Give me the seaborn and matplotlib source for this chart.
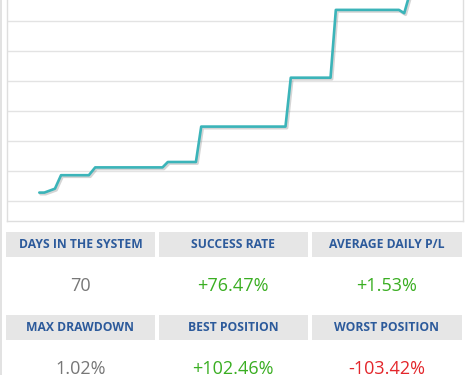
import matplotlib
matplotlib.use("Agg")
import matplotlib.pyplot as plt
import matplotlib.patheffects as pe
from matplotlib.patches import Rectangle
from matplotlib.lines import Line2D
import seaborn as sns
import pandas as pd

# ---- data ----
days = [6.15, 7.1, 9.1, 10.25, 15.5, 16.7, 29.4, 30.4, 35.7, 36.7,
        52.6, 53.6, 61.1, 62.1, 74.0, 75.0, 76.5]
equity = [2.9, 2.9, 4.2, 8.7, 8.7, 11.3, 11.3, 13.1, 13.1, 24.9,
          24.9, 41.2, 41.2, 63.8, 63.8, 62.7, 72.0]

stat_labels = ["DAYS IN THE SYSTEM", "SUCCESS RATE", "AVERAGE DAILY P/L",
               "MAX DRAWDOWN", "BEST POSITION", "WORST POSITION"]
stat_values = ["70", "+76.47%", "+1.53%", "1.02%", "+102.46%", "-103.42%"]
stat_kinds = ["neutral", "pos", "pos", "neutral", "pos", "neg"]

W, H = 471, 375
sns.set_theme(style="white")
plt.rcParams["font.family"] = ["Open Sans", "DejaVu Sans"]

fig = plt.figure(figsize=(W / 100, H / 100), dpi=100)
fig.patch.set_facecolor("white")

def fx(px):
    return px / W

def fy(py):
    return 1 - py / H

# chart axes (top extends beyond the image, as in the cropped screenshot)
left_px, right_px, bottom_px = 6.7, 463.3, 221.3
ymin, ymax = -6.67, 80
px_per_unit = 3.0
top_px = bottom_px - (ymax - ymin) * px_per_unit
ax = fig.add_axes([fx(left_px), fy(bottom_px), fx(right_px - left_px),
                   (bottom_px - top_px) / H])
ax.set_xlim(0, (right_px - left_px) / 5.3)
ax.set_ylim(ymin, ymax)
ax.set_yticks(range(0, 80, 10))
ax.set_xticks([])
ax.set_yticklabels([])
ax.tick_params(left=False, bottom=False)
ax.grid(axis="y", color="#e3e3e3", linewidth=1.0)
for s in ax.spines.values():
    s.set_color("#dedede")
    s.set_linewidth(1.0)

df = pd.DataFrame({"day": days, "equity": equity})
sns.lineplot(data=df, x="day", y="equity", ax=ax, color="#3bb4b9",
             linewidth=1.9, estimator=None, sort=False)
for ln in ax.lines:
    ln.set_path_effects([pe.SimpleLineShadow(offset=(1.0, -1.0), shadow_color="#888888",
                                             alpha=0.35, linewidth=2.2),
                         pe.Normal()])
ax.set_xlabel("")
ax.set_ylabel("")

# outer page line on the far left
fig.add_artist(Line2D([fx(1.2), fx(1.2)], [0, 1], color="#e2e2e2", linewidth=1.4))

# stats boxes
cols = [(6, 155), (159, 307.7), (312, 462)]
header_rows = [(232.3, 256.7), (315, 340)]
value_centers = [286, 369]
colors = {"neutral": "#777777", "pos": "#3aae22", "neg": "#e3262b"}

for i, (lab, val, kind) in enumerate(zip(stat_labels, stat_values, stat_kinds)):
    r, c = divmod(i, 3)
    x0, x1 = cols[c]
    y0, y1 = header_rows[r]
    fig.add_artist(Rectangle((fx(x0), fy(y1)), fx(x1 - x0), (y1 - y0) / H,
                             facecolor="#e6e6e6", edgecolor="none",
                             transform=fig.transFigure))
    fig.text(fx((x0 + x1) / 2), fy((y0 + y1) / 2), lab, ha="center", va="center",
             fontsize=8.7, fontweight="bold", color="#2c5a9b")
    fig.text(fx((x0 + x1) / 2), fy(value_centers[r]), val, ha="center", va="center",
             fontsize=13, color=colors[kind])

fig.savefig("out.png", dpi=100)
